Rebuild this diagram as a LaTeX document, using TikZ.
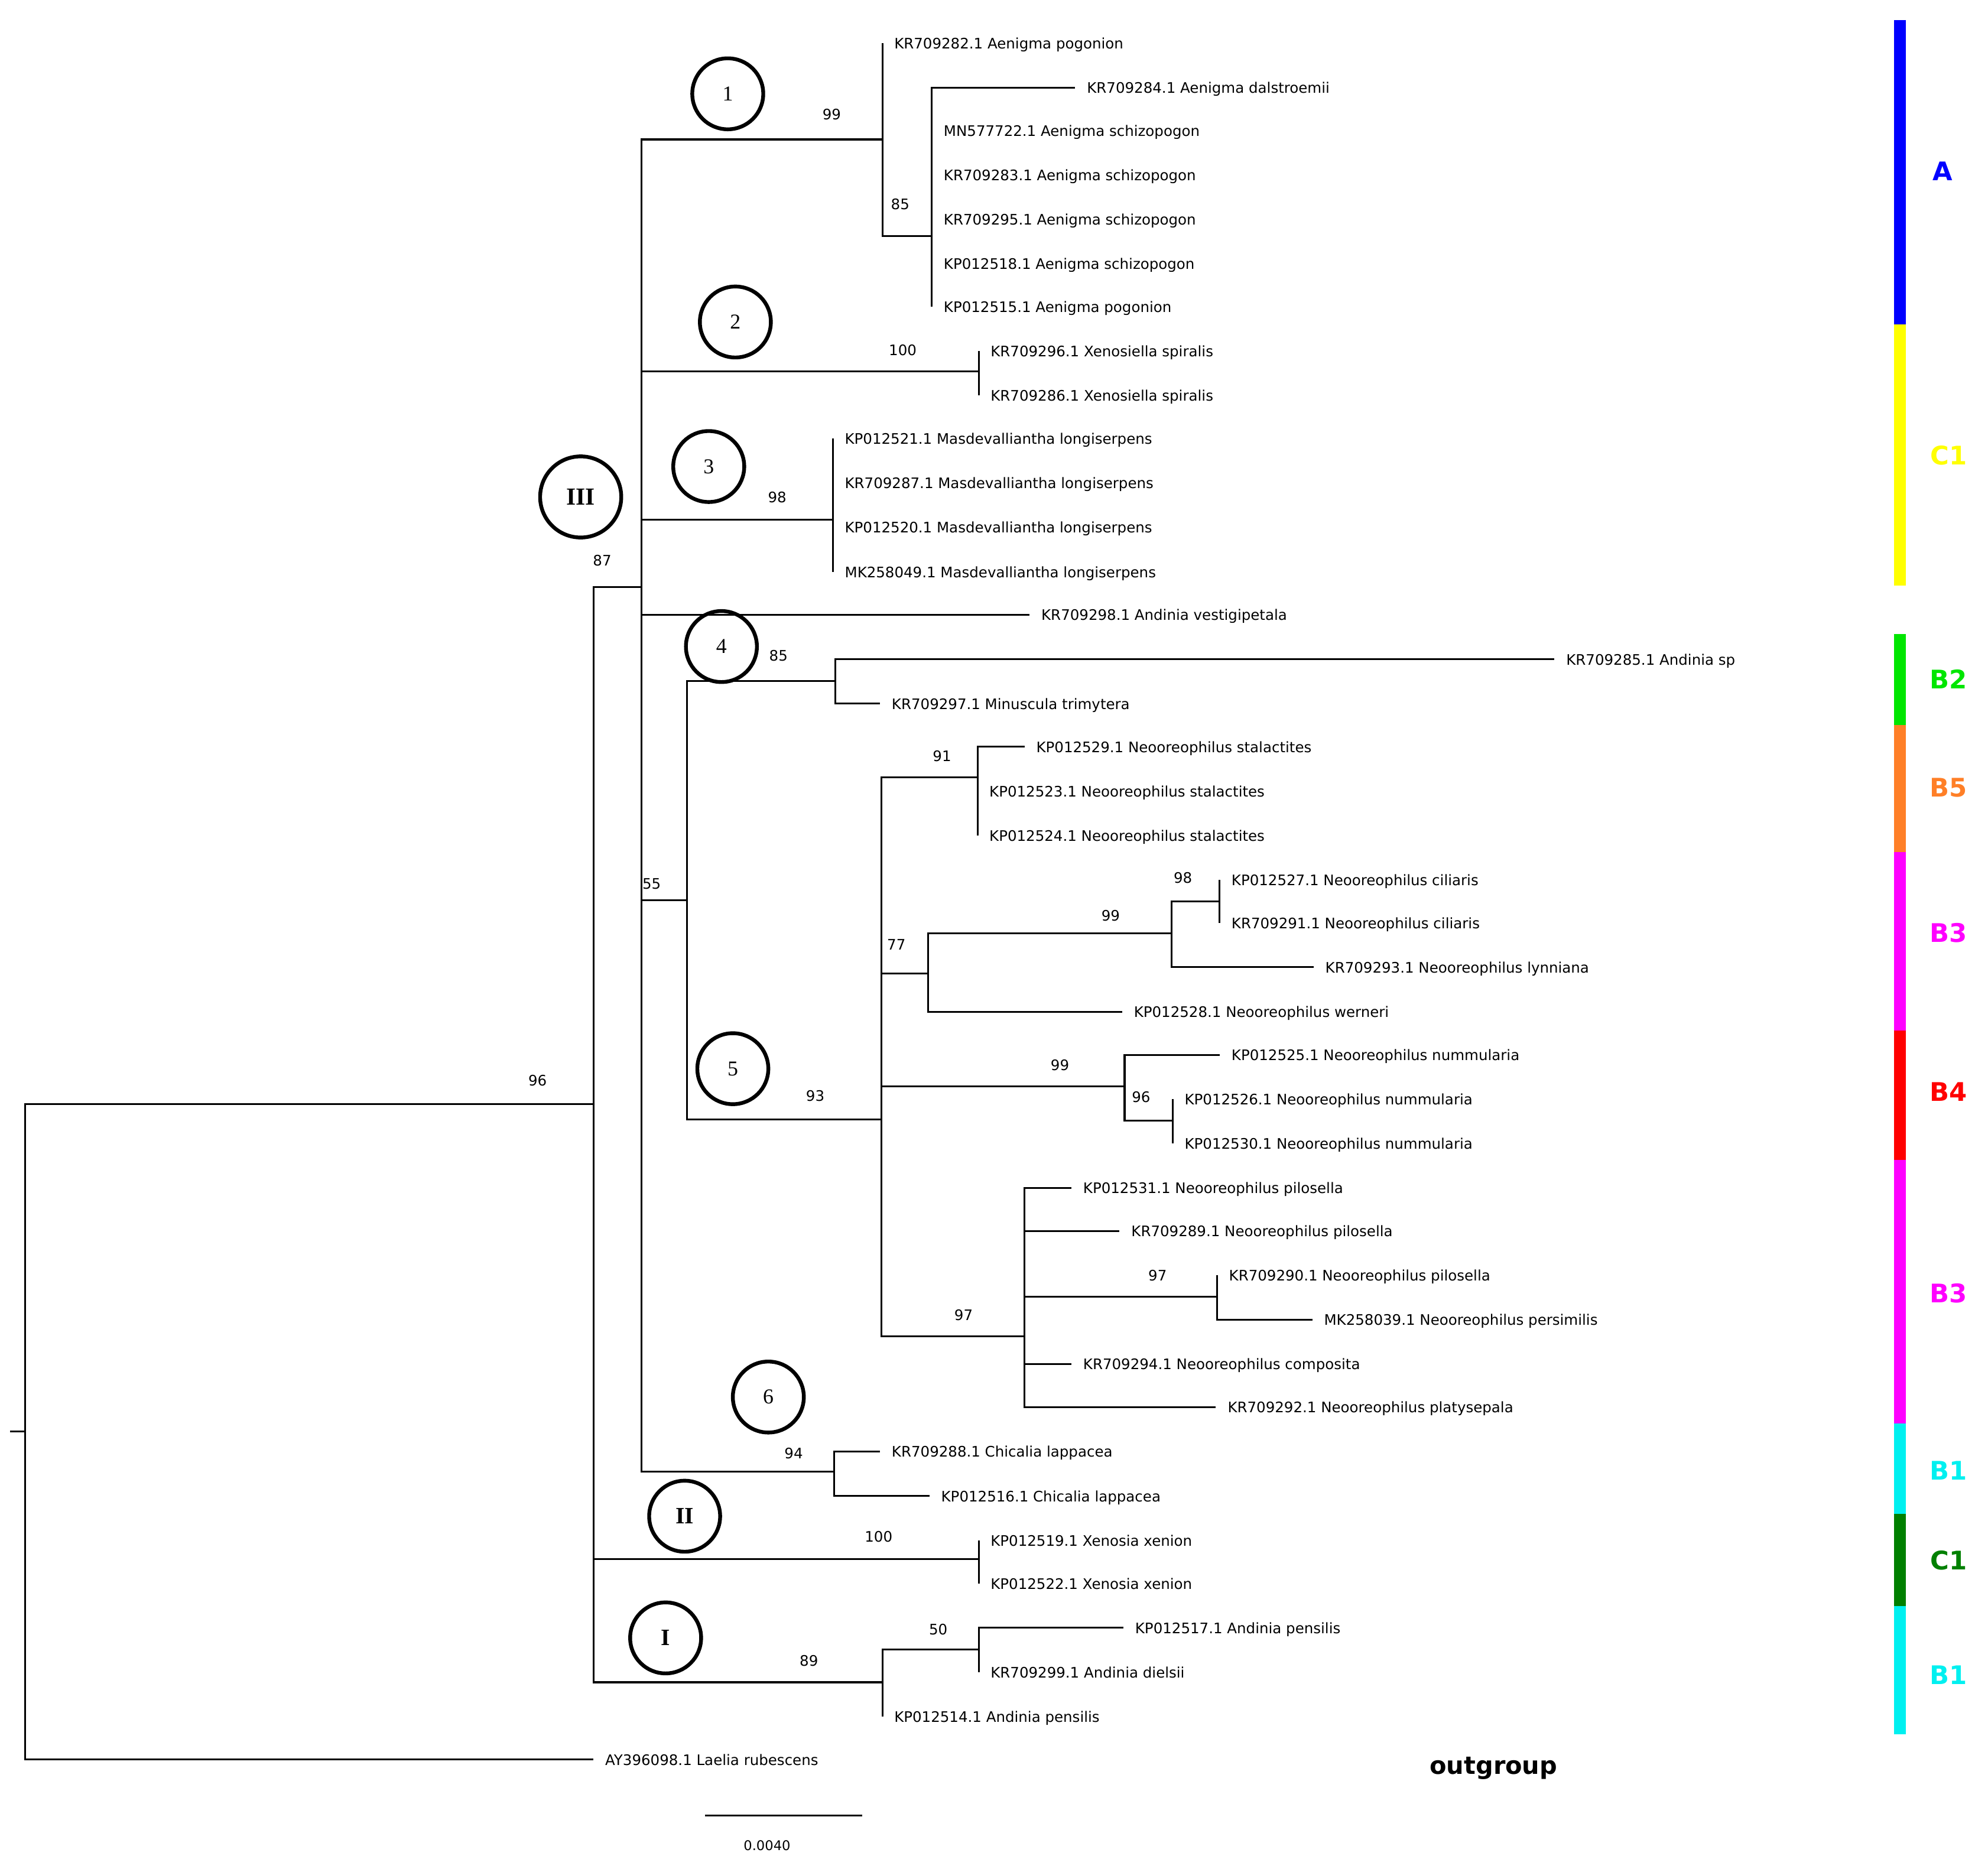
\documentclass[tikz,border=0pt]{standalone}
\usepackage{fontspec}
\setmainfont{DejaVu Sans}
\newfontfamily\circfont{Liberation Serif}
\definecolor{grpA}{RGB}{0,0,255}
\definecolor{grpCa}{RGB}{255,255,0}
\definecolor{grpBb}{RGB}{0,230,0}
\definecolor{grpBe}{RGB}{255,127,39}
\definecolor{grpBc}{RGB}{255,0,255}
\definecolor{grpBd}{RGB}{255,0,0}
\definecolor{grpBa}{RGB}{0,240,240}
\definecolor{grpCb}{RGB}{0,128,0}
\tikzset{
  branch/.style={line width=0.8pt},
  leaf/.style={anchor=west, inner xsep=0.18cm, inner ysep=0pt, text height=0.73em, text depth=2.3pt, font=\fontsize{6.5}{7}\selectfont},
  boot/.style={inner sep=0pt, text height=0.73em, text depth=2.3pt, font=\fontsize{6.5}{7}\selectfont},
  clade/.style={circle, draw, line width=1.7pt, minimum size=1.12cm, inner sep=0pt, font=\circfont\fontsize{9.5}{11}\selectfont},
  bigclade/.style={clade, minimum size=1.28cm, font=\circfont\bfseries\fontsize{11}{12}\selectfont},
  grp/.style={inner sep=0pt, text height=0.73em, text depth=0pt, font=\bfseries\fontsize{11.5}{13}\selectfont}
}
\begin{document}
\begin{tikzpicture}[line cap=butt,line join=miter,x=0.02cm,y=-0.02cm]
\useasboundingbox (0,0) rectangle (1568,1474);

% internal nodes
\coordinate (stub) at (8,1129);
\coordinate (root) at (20,1129);
\coordinate (ing) at (468,871);
\coordinate (cIII) at (506,463);
\coordinate (c1) at (696,110);
\coordinate (c1b) at (735,186);
\coordinate (c2) at (772,293);
\coordinate (c3) at (657,410);
\coordinate (n55) at (542,710);
\coordinate (c4) at (659,537);
\coordinate (c5) at (695,883);
\coordinate (n91) at (771,613);
\coordinate (n77) at (732,768);
\coordinate (n99a) at (924,736);
\coordinate (n98) at (962,711);
\coordinate (n99b) at (887,857);
\coordinate (n96) at (925,884);
\coordinate (n97a) at (808,1054);
\coordinate (n97b) at (960,1023);
\coordinate (c6) at (658,1161);
\coordinate (cII) at (772,1230);
\coordinate (cI) at (696,1327);
\coordinate (n50) at (772,1301);

% leaves
\node[leaf] (t1) at (696,34) {KR709282.1 Aenigma pogonion};
\node[leaf] (t2) at (848,69) {KR709284.1 Aenigma dalstroemii};
\node[leaf] (t3) at (735,103) {MN577722.1 Aenigma schizopogon};
\node[leaf] (t4) at (735,138) {KR709283.1 Aenigma schizopogon};
\node[leaf] (t5) at (735,173) {KR709295.1 Aenigma schizopogon};
\node[leaf] (t6) at (735,208) {KP012518.1 Aenigma schizopogon};
\node[leaf] (t7) at (735,242) {KP012515.1 Aenigma pogonion};
\node[leaf] (t8) at (772,277) {KR709296.1 Xenosiella spiralis};
\node[leaf] (t9) at (772,312) {KR709286.1 Xenosiella spiralis};
\node[leaf] (t10) at (657,346) {KP012521.1 Masdevalliantha longiserpens};
\node[leaf] (t11) at (657,381) {KR709287.1 Masdevalliantha longiserpens};
\node[leaf] (t12) at (657,416) {KP012520.1 Masdevalliantha longiserpens};
\node[leaf] (t13) at (657,451) {MK258049.1 Masdevalliantha longiserpens};
\node[leaf] (t14) at (812,485) {KR709298.1 Andinia vestigipetala};
\node[leaf] (t15) at (1226,520) {KR709285.1 Andinia sp};
\node[leaf] (t16) at (694,555) {KR709297.1 Minuscula trimytera};
\node[leaf] (t17) at (808,589) {KP012529.1 Neooreophilus stalactites};
\node[leaf] (t18) at (771,624) {KP012523.1 Neooreophilus stalactites};
\node[leaf] (t19) at (771,659) {KP012524.1 Neooreophilus stalactites};
\node[leaf] (t20) at (962,694) {KP012527.1 Neooreophilus ciliaris};
\node[leaf] (t21) at (962,728) {KR709291.1 Neooreophilus ciliaris};
\node[leaf] (t22) at (1036,763) {KR709293.1 Neooreophilus lynniana};
\node[leaf] (t23) at (885,798) {KP012528.1 Neooreophilus werneri};
\node[leaf] (t24) at (962,832) {KP012525.1 Neooreophilus nummularia};
\node[leaf] (t25) at (925,867) {KP012526.1 Neooreophilus nummularia};
\node[leaf] (t26) at (925,902) {KP012530.1 Neooreophilus nummularia};
\node[leaf] (t27) at (845,937) {KP012531.1 Neooreophilus pilosella};
\node[leaf] (t28) at (883,971) {KR709289.1 Neooreophilus pilosella};
\node[leaf] (t29) at (960,1006) {KR709290.1 Neooreophilus pilosella};
\node[leaf] (t30) at (1035,1041) {MK258039.1 Neooreophilus persimilis};
\node[leaf] (t31) at (845,1076) {KR709294.1 Neooreophilus composita};
\node[leaf] (t32) at (959,1110) {KR709292.1 Neooreophilus platysepala};
\node[leaf] (t33) at (694,1145) {KR709288.1 Chicalia lappacea};
\node[leaf] (t34) at (733,1180) {KP012516.1 Chicalia lappacea};
\node[leaf] (t35) at (772,1215) {KP012519.1 Xenosia xenion};
\node[leaf] (t36) at (772,1249) {KP012522.1 Xenosia xenion};
\node[leaf] (t37) at (886,1284) {KP012517.1 Andinia pensilis};
\node[leaf] (t38) at (772,1319) {KR709299.1 Andinia dielsii};
\node[leaf] (t39) at (696,1354) {KP012514.1 Andinia pensilis};
\node[leaf] (t40) at (468,1388) {AY396098.1 Laelia rubescens};

% branches
\draw[branch] (stub) -- (root);
\draw[branch] (root) |- (ing) (root) |- (t40);
\draw[branch] (ing) |- (cIII) (ing) |- (cII) (ing) |- (cI);
\draw[branch] (cIII) |- (c1) (cIII) |- (c2) (cIII) |- (c3) (cIII) |- (t14) (cIII) |- (n55) (cIII) |- (c6);
\draw[branch] (c1) |- (t1) (c1) |- (c1b);
\draw[branch] (c1b) |- (t2) (c1b) |- (t3) (c1b) |- (t4) (c1b) |- (t5) (c1b) |- (t6) (c1b) |- (t7);
\draw[branch] (c2) |- (t8) (c2) |- (t9);
\draw[branch] (c3) |- (t10) (c3) |- (t11) (c3) |- (t12) (c3) |- (t13);
\draw[branch] (n55) |- (c4) (n55) |- (c5);
\draw[branch] (c4) |- (t15) (c4) |- (t16);
\draw[branch] (c5) |- (n91) (c5) |- (n77) (c5) |- (n99b) (c5) |- (n97a);
\draw[branch] (n91) |- (t17) (n91) |- (t18) (n91) |- (t19);
\draw[branch] (n77) |- (n99a) (n77) |- (t23);
\draw[branch] (n99a) |- (n98) (n99a) |- (t22);
\draw[branch] (n98) |- (t20) (n98) |- (t21);
\draw[branch] (n99b) |- (t24) (n99b) |- (n96);
\draw[branch] (n96) |- (t25) (n96) |- (t26);
\draw[branch] (n97a) |- (t27) (n97a) |- (t28) (n97a) |- (n97b) (n97a) |- (t31) (n97a) |- (t32);
\draw[branch] (n97b) |- (t29) (n97b) |- (t30);
\draw[branch] (c6) |- (t33) (c6) |- (t34);
\draw[branch] (cII) |- (t35) (cII) |- (t36);
\draw[branch] (cI) |- (n50) (cI) |- (t39);
\draw[branch] (n50) |- (t37) (n50) |- (t38);

% support values
\node[boot] (b96) at (424,852) {96};
\node[boot] (b87) at (475,442) {87};
\node[boot] (b99a) at (656,90) {99};
\node[boot] (b85a) at (710,161) {85};
\node[boot] (b100a) at (712,276) {100};
\node[boot] (b98a) at (613,392) {98};
\node[boot] (b85b) at (614,517) {85};
\node[boot] (b55) at (514,697) {55};
\node[boot] (b93) at (643,864) {93};
\node[boot] (b91) at (743,596) {91};
\node[boot] (b77) at (707,745) {77};
\node[boot] (b99b) at (876,722) {99};
\node[boot] (b98b) at (933,692) {98};
\node[boot] (b99c) at (836,840) {99};
\node[boot] (b96b) at (900,865) {96};
\node[boot] (b97a) at (760,1037) {97};
\node[boot] (b97b) at (913,1006) {97};
\node[boot] (b94) at (626,1146) {94};
\node[boot] (b100b) at (693,1212) {100};
\node[boot] (b89) at (638,1310) {89};
\node[boot] (b50) at (740,1285) {50};

% clade circles
\node[clade] (k1) at (574,74) {1};
\node[clade] (k2) at (580,254) {2};
\node[clade] (k3) at (559,368) {3};
\node[bigclade] (kIII) at (458,392) {III};
\node[clade] (k4) at (569,510) {4};
\node[clade] (k5) at (578,843) {5};
\node[clade] (k6) at (606,1102) {6};
\node[clade, font=\circfont\bfseries\fontsize{10.5}{12}\selectfont] (kII) at (540,1196) {II};
\node[clade, font=\circfont\bfseries\fontsize{10.5}{12}\selectfont] (kI) at (525,1292) {I};

% group bar
\fill[grpA] (1494,16) rectangle (1503,256);
\fill[grpCa] (1494,256) rectangle (1503,462);
\fill[grpBb] (1494,500) rectangle (1503,572);
\fill[grpBe] (1494,572) rectangle (1503,672);
\fill[grpBc] (1494,672) rectangle (1503,813);
\fill[grpBd] (1494,813) rectangle (1503,915);
\fill[grpBc] (1494,915) rectangle (1503,1123);
\fill[grpBa] (1494,1123) rectangle (1503,1194);
\fill[grpCb] (1494,1194) rectangle (1503,1267);
\fill[grpBa] (1494,1267) rectangle (1503,1368);
\node[grp, text=grpA] (gA) at (1532,136) {A};
\node[grp, text=grpCa] (gC1a) at (1537,360) {C1};
\node[grp, text=grpBb] (gB2) at (1537,537) {B2};
\node[grp, text=grpBe] (gB5) at (1537,622) {B5};
\node[grp, text=grpBc] (gB3a) at (1537,737) {B3};
\node[grp, text=grpBd] (gB4) at (1537,862) {B4};
\node[grp, text=grpBc] (gB3b) at (1537,1021) {B3};
\node[grp, text=grpBa] (gB1a) at (1537,1161) {B1};
\node[grp, text=grpCb] (gC1b) at (1537,1232) {C1};
\node[grp, text=grpBa] (gB1b) at (1537,1322) {B1};
\node[grp, font=\bfseries\fontsize{11}{13}\selectfont] (outg) at (1178,1393) {outgroup};

% scale bar
\coordinate (sbl) at (556,1432);
\coordinate (sbr) at (680,1432);
\draw[branch] (sbl) -- (sbr);
\node[boot, font=\fontsize{6}{7}\selectfont] (sbv) at (605,1455) {0.0040};
\end{tikzpicture}
\end{document}
